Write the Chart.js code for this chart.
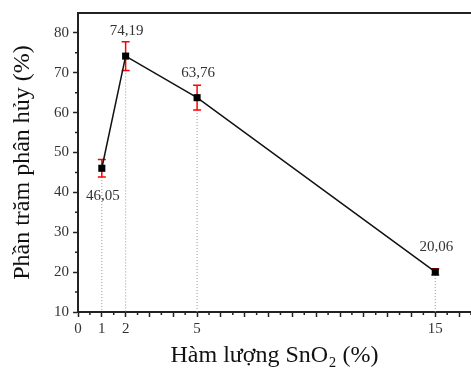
<!DOCTYPE html>
<html>
<head>
<meta charset="utf-8">
<script src="https://cdn.jsdelivr.net/npm/chart.js@4.4.1/dist/chart.umd.min.js"></script>
<style>
  html, body { margin: 0; padding: 0; background: #fff; }
  #wrap { width: 471px; height: 376px; }
</style>
</head>
<body>
<div id="wrap"><canvas id="myCanvas"></canvas></div>
<script>
let xValues = [1, 2, 5, 15]
let yValues = [46.05, 74.19, 63.76, 20.06]
let yErrors = [2.2, 3.6, 3.1, 0.8]
let pointLabels = ["46,05", "74,19", "63,76", "20,06"]
let labelSide = ["below", "above", "above", "above"]
let xTickLabels = [0, 1, 2, 5, 15]

let serif = "'Liberation Serif', 'Times New Roman', serif"
let ink = "#222"

// error bars + dotted drop lines, drawn under the markers
let extras = {
    id: "extras",
    beforeDatasetsDraw(chart) {
        let c = chart.ctx
        let xs = chart.scales.x
        let ys = chart.scales.y
        c.save()
        for (let i = 0; i < xValues.length; i++) {
            let px = xs.getPixelForValue(xValues[i])
            let py = ys.getPixelForValue(yValues[i])
            let lo = ys.getPixelForValue(yValues[i] - yErrors[i])
            let hi = ys.getPixelForValue(yValues[i] + yErrors[i])
            // dotted drop line
            c.strokeStyle = "#999"
            c.lineWidth = 1
            c.setLineDash([1, 2])
            c.beginPath()
            c.moveTo(px, Math.max(lo, py))
            c.lineTo(px, ys.bottom)
            c.stroke()
            c.setLineDash([])
            // error bar
            c.strokeStyle = "#f00"
            c.lineWidth = 1.5
            c.beginPath()
            c.moveTo(px, lo)
            c.lineTo(px, hi)
            c.moveTo(px - 4, lo)
            c.lineTo(px + 4, lo)
            c.moveTo(px - 4, hi)
            c.lineTo(px + 4, hi)
            c.stroke()
        }
        c.restore()
    },
    afterDatasetsDraw(chart) {
        let c = chart.ctx
        let xs = chart.scales.x
        let ys = chart.scales.y
        c.save()
        c.font = "15px " + serif
        c.fillStyle = "#333"
        c.textAlign = "center"
        c.textBaseline = "middle"
        for (let i = 0; i < xValues.length; i++) {
            let px = xs.getPixelForValue(xValues[i])
            let py = ys.getPixelForValue(yValues[i])
            let off = labelSide[i] == "below" ? 28 : -25
            c.fillText(pointLabels[i], px + 1, py + off)
        }
        c.restore()
    },
    afterDraw(chart) {
        let c = chart.ctx
        let a = chart.chartArea
        let xs = chart.scales.x
        let ys = chart.scales.y
        c.save()
        // top frame line
        c.strokeStyle = ink
        c.lineWidth = 2
        c.beginPath()
        c.moveTo(a.left - 1, a.top)
        c.lineTo(a.right, a.top)
        c.stroke()
        // minor ticks
        c.lineWidth = 1.5
        c.beginPath()
        xs.ticks.forEach(function (t) {
            if (t.value % 1 != 0) {
                let px = xs.getPixelForValue(t.value)
                c.moveTo(px, a.bottom)
                c.lineTo(px, a.bottom + 3)
            }
        })
        ys.ticks.forEach(function (t) {
            if (t.value % 10 != 0 && t.value < ys.max) {
                let py = ys.getPixelForValue(t.value)
                c.moveTo(a.left, py)
                c.lineTo(a.left - 3, py)
            }
        })
        c.stroke()
        c.restore()
    }
}

let ctx = document.querySelector("#myCanvas").getContext("2d")
let chart = new Chart(ctx, {
    type: "line",
    data: {
        datasets: [{
            data: xValues.map(function (x, i) { return { x: x, y: yValues[i] } }),
            borderColor: "#111",
            borderWidth: 1.5,
            backgroundColor: "#000",
            pointStyle: "rect",
            pointRadius: 5,
            pointBorderWidth: 0,
            tension: 0
        }]
    },
    options: {
        responsive: true,
        maintainAspectRatio: false,
        animation: false,
        layout: { autoPadding: false, padding: { top: 11, right: 0, left: 0, bottom: 0 } },
        plugins: {
            legend: { display: false },
            tooltip: { enabled: false }
        },
        scales: {
            x: {
                type: "linear",
                min: 0,
                max: 16.5,
                afterFit(scale) {
                    scale.height = 64
                    scale.paddingRight = 0
                    scale.paddingLeft = 0
                },
                grid: {
                    drawOnChartArea: false,
                    tickLength: 5,
                    tickWidth: 1.5,
                    tickColor: function (c) { return c.tick && c.tick.value % 1 == 0 ? ink : "rgba(0,0,0,0)" }
                },
                border: { color: ink, width: 2 },
                ticks: {
                    stepSize: 0.5,
                    autoSkip: false,
                    maxRotation: 0,
                    padding: 3,
                    color: "#333",
                    font: { family: serif, size: 15 },
                    callback: function (v) { return xTickLabels.includes(v) ? String(v) : "" }
                },
                title: {
                    display: true,
                    text: "Hàm lượng SnO₂ (%)",
                    color: "#111",
                    font: { family: serif, size: 24 },
                    padding: { top: 0, bottom: 6 }
                }
            },
            y: {
                min: 10,
                max: 85,
                afterFit(scale) { scale.width = 78 },
                grid: {
                    drawOnChartArea: false,
                    tickLength: 5,
                    tickWidth: 1.5,
                    tickColor: function (c) { return c.tick && c.tick.value % 10 == 0 ? ink : "rgba(0,0,0,0)" }
                },
                border: { color: ink, width: 2 },
                ticks: {
                    stepSize: 5,
                    autoSkip: false,
                    padding: 4,
                    color: "#333",
                    font: { family: serif, size: 15 },
                    callback: function (v) { return v % 10 == 0 ? String(v) : "" }
                },
                title: {
                    display: true,
                    text: "Phần trăm phân hủy (%)",
                    color: "#111",
                    font: { family: serif, size: 24 },
                    padding: { top: 8, bottom: 0 }
                }
            }
        }
    },
    plugins: [extras]
})
</script>
</body>
</html>
